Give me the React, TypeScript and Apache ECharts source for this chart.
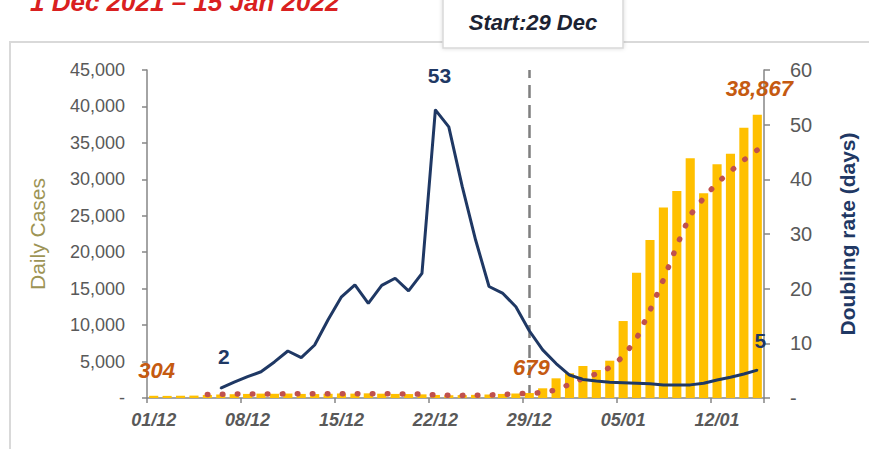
import React, { useEffect, useRef } from "react";
import * as echarts from "echarts";

const dates = [
  "01/12", "02/12", "03/12", "04/12", "05/12", "06/12", "07/12", "08/12", "09/12", "10/12",
  "11/12", "12/12", "13/12", "14/12", "15/12", "16/12", "17/12", "18/12", "19/12", "20/12",
  "21/12", "22/12", "23/12", "24/12", "25/12", "26/12", "27/12", "28/12", "29/12", "30/12",
  "31/12", "01/01", "02/01", "03/01", "04/01", "05/01", "06/01", "07/01", "08/01", "09/01",
  "10/01", "11/01", "12/01", "13/01", "14/01", "15/01",
];

const dailyCases = [
  304, 290, 310, 330, 420, 480, 520, 560, 600, 580,
  610, 560, 540, 580, 620, 600, 640, 590, 560, 540,
  500, 420, 380, 400, 430, 480, 560, 620, 679, 1330,
  2700, 3390, 4390, 3840, 5120, 10560, 17200, 21680, 26120, 28400,
  32880, 28080, 32060, 33520, 37090, 38867,
];

const avgCases = [
  null, null, null, null, 480, 520, 540, 550, 560, 560,
  570, 570, 570, 570, 580, 580, 580, 580, 570, 560,
  520, 420, 380, 360, 370, 410, 480, 560, 645, 740,
  1100, 1870, 2700, 3310, 4180, 5680, 8160, 12020, 16220, 20900,
  25100, 27440, 29500, 31090, 32650, 34030,
];

const doublingRate = [
  null, null, null, null, null, 1.8, 2.9, 3.9, 4.8, 6.6,
  8.6, 7.4, 9.7, 14.3, 18.5, 20.7, 17.3, 20.6, 21.9, 19.6,
  22.8, 52.7, 49.6, 38.7, 28.9, 20.4, 19.2, 16.7, 12.3, 8.8,
  6.3, 4.2, 3.4, 3.1, 2.9, 2.8, 2.7, 2.6, 2.4, 2.4,
  2.4, 2.7, 3.3, 3.8, 4.4, 5.1,
];

const startDate = "29/12";
const titleText = "1 Dec 2021 \u2013 15 Jan 2022";
const startText = "Start:29 Dec";

const FONT = "'Liberation Sans', Arial, sans-serif";

export default function App() {
  const ref = useRef<HTMLDivElement>(null);

  useEffect(() => {
    if (!ref.current) return;
    const chart = echarts.init(ref.current, null, { renderer: "svg" });

    const barLabelIdx: Record<number, { distance: number; offset: number[] }> = {
      0: { distance: 14, offset: [3, 0] },
      28: { distance: 15, offset: [2, 0] },
      45: { distance: 15, offset: [2, 0] },
    };
    const lineLabelIdx: Record<number, { distance: number; offset: number[] }> = {
      5: { distance: 20, offset: [3, 0] },
      21: { distance: 23, offset: [4, 0] },
      45: { distance: 18, offset: [3, 0] },
    };

    const barData = dailyCases.map((v, i) =>
      barLabelIdx[i]
        ? {
            value: v,
            label: {
              show: true,
              position: "top",
              distance: barLabelIdx[i].distance,
              offset: barLabelIdx[i].offset,
              formatter: (p: any) => Number(p.value).toLocaleString("en-US"),
              color: "#C55A11",
              fontSize: 22,
              fontWeight: "bold",
              fontStyle: "italic",
              fontFamily: FONT,
            },
          }
        : v
    );

    const rateData = doublingRate.map((v, i) =>
      lineLabelIdx[i]
        ? {
            value: v,
            symbol: "circle",
            symbolSize: 2,
            label: {
              show: true,
              position: "top",
              distance: lineLabelIdx[i].distance,
              offset: lineLabelIdx[i].offset,
              formatter: (p: any) => String(Math.round(Number(p.value))),
              color: "#1F3864",
              fontSize: 21,
              fontWeight: "bold",
              fontFamily: FONT,
            },
          }
        : { value: v, symbol: "none" }
    );

    const option: any = {
      animation: false,
      backgroundColor: "#ffffff",
      textStyle: { fontFamily: FONT },
      grid: { left: 147, right: 105, top: 70, bottom: 51, containLabel: false },
      xAxis: {
        type: "category",
        data: dates,
        boundaryGap: true,
        axisLine: { show: true, lineStyle: { color: "#868686", width: 1.5 } },
        axisTick: { show: true, interval: 6, length: 5, alignWithLabel: false, lineStyle: { color: "#868686", width: 1.5 } },
        axisLabel: {
          interval: 6,
          margin: 13,
          color: "#595959",
          fontSize: 18,
          fontStyle: "italic",
          fontWeight: "bold",
          fontFamily: FONT,
        },
        splitLine: { show: false },
      },
      yAxis: [
        {
          type: "value",
          min: 0,
          max: 45000,
          interval: 5000,
          position: "left",
          name: "Daily Cases",
          nameLocation: "middle",
          nameRotate: 90,
          nameGap: 99,
          nameTextStyle: { color: "#9D9455", fontSize: 21, fontFamily: FONT },
          axisLine: { show: true, lineStyle: { color: "#868686", width: 1.5 } },
          axisTick: { show: true, length: 5, lineStyle: { color: "#868686", width: 1.5 } },
          axisLabel: {
            margin: 22,
            color: "#595959",
            fontSize: 18,
            fontFamily: FONT,
            formatter: (v: number) => (v === 0 ? "-" : v.toLocaleString("en-US")),
          },
          splitLine: { show: false },
        },
        {
          type: "value",
          min: 0,
          max: 60,
          interval: 10,
          position: "right",
          name: "Doubling rate (days)",
          nameLocation: "middle",
          nameRotate: 90,
          nameGap: 73,
          nameTextStyle: { color: "#1F3864", fontSize: 21, fontWeight: "bold", fontFamily: FONT },
          axisLine: { show: true, lineStyle: { color: "#868686", width: 1.5 } },
          axisTick: { show: true, length: 6, lineStyle: { color: "#868686", width: 1.5 } },
          axisLabel: {
            margin: 26,
            color: "#595959",
            fontSize: 20,
            fontFamily: FONT,
            formatter: (v: number) => (v === 0 ? "-" : String(v)),
          },
          splitLine: { show: false },
        },
      ],
      series: [
        {
          name: "Daily Cases",
          type: "bar",
          yAxisIndex: 0,
          data: barData,
          barCategoryGap: "32%",
          itemStyle: { color: "#FFC000" },
          z: 2,
          markLine: {
            silent: true,
            symbol: ["none", "none"],
            label: { show: false },
            lineStyle: { color: "#7F7F7F", type: [13, 7], width: 2.5 },
            data: [{ xAxis: startDate }],
            z: 1,
          },
        },
        {
          name: "7-day average",
          type: "line",
          yAxisIndex: 0,
          data: avgCases,
          showSymbol: false,
          symbol: "none",
          connectNulls: false,
          lineStyle: { color: "#C0504D", width: 5.5, type: [0.5, 14.5], cap: "round" },
          z: 3,
        },
        {
          name: "Doubling rate",
          type: "line",
          yAxisIndex: 1,
          data: rateData,
          showSymbol: true,
          showAllSymbol: true,
          symbol: "none",
          itemStyle: { color: "#1F3864" },
          lineStyle: { color: "#1F3864", width: 3 },
          z: 4,
        },
      ],
      graphic: [
        {
          type: "rect",
          z: -10,
          silent: true,
          shape: { x: 10, y: 42, width: 880, height: 430 },
          style: { fill: "none", stroke: "#D9D9D9", lineWidth: 2 },
        },
        {
          type: "text",
          silent: true,
          x: 30,
          y: 2,
          style: {
            text: titleText,
            fill: "#D92020",
            fontSize: 26,
            fontWeight: "bold",
            fontStyle: "italic",
            fontFamily: FONT,
            align: "left",
            verticalAlign: "middle",
          },
        },
        {
          type: "rect",
          silent: true,
          z: 10,
          shape: { x: 443, y: -6, width: 180, height: 54 },
          style: {
            fill: "#ffffff",
            stroke: "#D9D9D9",
            lineWidth: 1.5,
            shadowBlur: 4,
            shadowColor: "rgba(0,0,0,0.15)",
          },
        },
        {
          type: "text",
          silent: true,
          z: 11,
          x: 533,
          y: 22,
          style: {
            text: startText,
            fill: "#1C2333",
            fontSize: 22,
            fontWeight: "bold",
            fontStyle: "italic",
            fontFamily: FONT,
            align: "center",
            verticalAlign: "middle",
          },
        },
      ],
    };

    chart.setOption(option);
    return () => chart.dispose();
  }, []);

  return (
    <div
      ref={ref}
      style={{ position: "absolute", left: 0, top: 0, width: 869, height: 449, background: "#fff" }}
    />
  );
}
